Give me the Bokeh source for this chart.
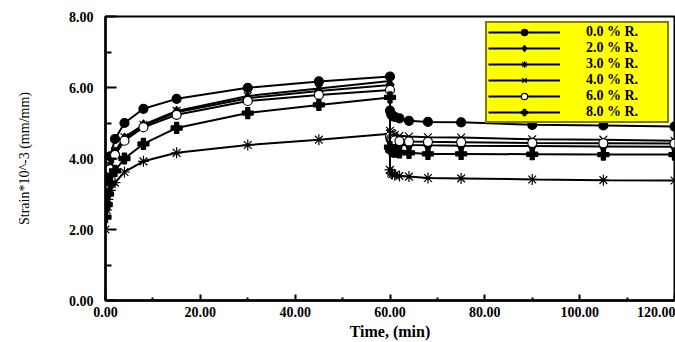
from bokeh.plotting import figure
from bokeh.models import (Range1d, FixedTicker, PrintfTickFormatter, Legend, LegendItem,
                          ColumnDataSource)
from bokeh.embed import file_html
from bokeh.resources import INLINE

# ---- data ----
time = [0, 0.25, 0.5, 1, 2, 4, 8, 15, 30, 45, 60,
        60, 60.25, 60.5, 61, 62, 64, 68, 75, 90, 105, 120]

r00 = [2.60, 3.20, 3.55, 4.06, 4.55, 5.00, 5.40, 5.68, 5.99, 6.17, 6.31,
       5.35, 5.25, 5.20, 5.17, 5.13, 5.06, 5.03, 5.02, 4.95, 4.93, 4.90]
r20 = [2.70, 3.00, 3.30, 3.75, 4.15, 4.55, 4.92, 5.30, 5.70, 5.90, 6.07,
       4.52, 4.45, 4.42, 4.40, 4.39, 4.38, 4.37, 4.36, 4.35, 4.34, 4.33]
r30 = [2.00, 2.55, 2.85, 3.10, 3.32, 3.62, 3.92, 4.16, 4.38, 4.53, 4.70,
       3.68, 3.60, 3.56, 3.53, 3.51, 3.49, 3.45, 3.44, 3.41, 3.39, 3.38]
r40 = [2.75, 3.05, 3.35, 3.80, 4.20, 4.60, 4.95, 5.34, 5.76, 5.97, 6.18,
       4.78, 4.72, 4.69, 4.66, 4.64, 4.62, 4.60, 4.59, 4.54, 4.53, 4.50]
r60 = [2.85, 3.00, 3.25, 3.70, 4.10, 4.50, 4.88, 5.23, 5.62, 5.79, 5.93,
       4.62, 4.56, 4.53, 4.51, 4.49, 4.48, 4.47, 4.46, 4.44, 4.43, 4.42]
r80 = [2.35, 2.70, 3.00, 3.30, 3.65, 4.00, 4.41, 4.86, 5.28, 5.51, 5.72,
       4.32, 4.24, 4.21, 4.19, 4.17, 4.16, 4.13, 4.13, 4.12, 4.11, 4.11]

labels = ["0.0 % R.", "2.0 % R.", "3.0 % R.", "4.0 % R.", "6.0 % R.", "8.0 % R."]
series = [r00, r20, r30, r40, r60, r80]

x_ticks = [0, 20, 40, 60, 80, 100, 120]
x_minor = [10, 30, 50, 70, 90, 110]
y_ticks = [0, 2, 4, 6, 8]
y_minor = [1, 3, 5, 7]

FONT = "Liberation Serif"

p = figure(width=675, height=342, output_backend="svg", toolbar_location=None,
           x_range=Range1d(0, 120), y_range=Range1d(0, 8),
           min_border_left=105, min_border_right=1, min_border_top=16, min_border_bottom=40)
p.background_fill_color = "white"
p.border_fill_color = "white"
p.outline_line_color = "black"
p.outline_line_width = 2
p.xgrid.visible = False
p.ygrid.visible = False

# markers
marker_specs = [
    dict(marker="circle", size=9, fill_color="black"),
    dict(marker="diamond", size=12, fill_color="black"),
    dict(marker="asterisk", size=11, fill_color="black"),
    dict(marker="x", size=11, fill_color="black"),
    dict(marker="circle", size=9, fill_color="white"),
    dict(marker="plus", size=11, fill_color="black"),
]

items = []
for lab, ys, spec in zip(labels, series, marker_specs):
    src = ColumnDataSource(dict(t=time, v=ys))
    lr = p.line("t", "v", source=src, line_color="black", line_width=2)
    sr = p.scatter("t", "v", source=src, line_color="black", line_width=1.2, **spec)
    items.append(LegendItem(label=lab, renderers=[lr, sr]))

legend = Legend(items=items, location="top_right")
legend.background_fill_color = "#FFFF00"
legend.background_fill_alpha = 1.0
legend.border_line_color = "black"
legend.border_line_width = 2.5
legend.label_text_font = FONT
legend.label_text_font_style = "bold"
legend.label_text_font_size = "14px"
legend.label_text_color = "black"
legend.glyph_width = 72
legend.glyph_height = 16
legend.label_height = 16
legend.label_width = 80
legend.label_standoff = 26
legend.padding = 1
legend.spacing = 0
legend.margin = 5
p.add_layout(legend)

# axes
for ax in (p.xaxis[0], p.yaxis[0]):
    ax.axis_line_width = 2.5
    ax.axis_line_color = "black"
    ax.major_tick_line_color = "black"
    ax.minor_tick_line_color = "black"
    ax.major_tick_line_width = 2
    ax.minor_tick_line_width = 2
    ax.major_tick_out = 0
    ax.minor_tick_out = 0
    ax.major_label_text_font = FONT
    ax.major_label_text_font_style = "bold"
    ax.major_label_text_font_size = "14px"
    ax.major_label_text_color = "black"
    ax.axis_label_text_color = "black"
    ax.formatter = PrintfTickFormatter(format="%.2f")

p.xaxis[0].ticker = FixedTicker(ticks=x_ticks, minor_ticks=x_minor)
p.yaxis[0].ticker = FixedTicker(ticks=y_ticks, minor_ticks=y_minor)
p.xaxis[0].major_tick_in = 6
p.xaxis[0].minor_tick_in = 3
p.yaxis[0].major_tick_in = 11
p.yaxis[0].minor_tick_in = 6
p.xaxis[0].major_label_standoff = 6
p.yaxis[0].major_label_standoff = 12

p.xaxis[0].axis_label = "Time, (min)"
p.xaxis[0].axis_label_text_font = FONT
p.xaxis[0].axis_label_text_font_style = "bold"
p.xaxis[0].axis_label_text_font_size = "16px"
p.xaxis[0].axis_label_standoff = 3

p.yaxis[0].axis_label = "Strain*10^-3 (mm/mm)"
p.yaxis[0].axis_label_text_font = FONT
p.yaxis[0].axis_label_text_font_style = "normal"
p.yaxis[0].axis_label_text_font_size = "14px"
p.yaxis[0].axis_label_standoff = 34

open("out.html", "w").write(file_html(p, INLINE))
